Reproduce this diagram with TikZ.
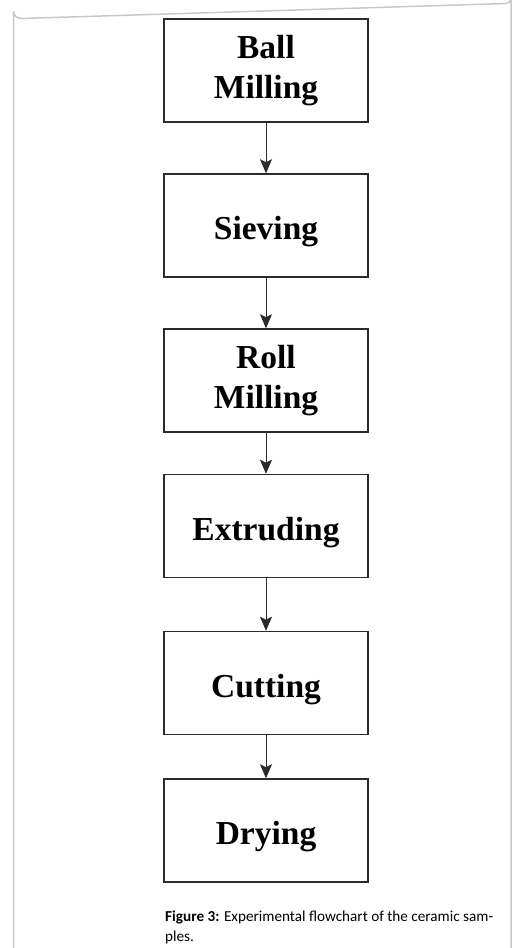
\documentclass[tikz,border=0pt]{standalone}
\usepackage{fontspec}
\setmainfont{Liberation Serif}
\newfontfamily\capfont{Carlito}
\usetikzlibrary{arrows.meta}
\definecolor{framegray}{HTML}{C8C8C8}
\definecolor{boxline}{HTML}{2A2A2A}
\tikzset{
  stepbox/.style={draw=boxline, line width=1.5pt, fill=white, minimum width=204pt, minimum height=103pt,
    inner sep=0pt, align=center, font=\fontsize{33.5}{40}\selectfont\bfseries},
  onebox/.style={stepbox, text height=28pt, text depth=0pt},
  flow/.style={draw=boxline, line width=0.9pt, -{Stealth[length=14pt,width=12pt,inset=3pt]}},
  captext/.style={inner sep=0pt, anchor=base west, font=\capfont\fontsize{15.2}{19}\selectfont}
}
\begin{document}
\begin{tikzpicture}[x=1pt,y=-1pt]
\useasboundingbox (0,0) rectangle (512,948);
\fill[white] (0,0) rectangle (512,948);
% page frame
\draw[framegray, line width=1.5pt] (13.5,950) -- (13.5,11) arc[start angle=180, end angle=90, radius=7.5] -- (506,3.5) arc[start angle=90, end angle=0, radius=5] -- (511,950);
% boxes
\node[stepbox] (b1) at (266,70.5) {Ball\\Milling};
\node[onebox] (b2) at (266,225.5) {Sieving};
\node[stepbox] (b3) at (266,380.5) {Roll\\Milling};
\node[onebox] (b4) at (266,526) {Extruding};
\node[onebox] (b5) at (266,683) {Cutting};
\node[onebox] (b6) at (266,830.5) {Drying};
% connectors
\draw[flow] (b1) -- (b2);
\draw[flow] (b2) -- (b3);
\draw[flow] (b3) -- (b4);
\draw[flow] (b4) -- (b5);
\draw[flow] (b5) -- (b6);
% caption
\node[captext] (cap1) at (165,921) {\textbf{Figure 3:} Experimental flowchart of the ceramic sam-};
\node[captext] (cap2) at (165,941) {ples.};
\end{tikzpicture}
\end{document}
